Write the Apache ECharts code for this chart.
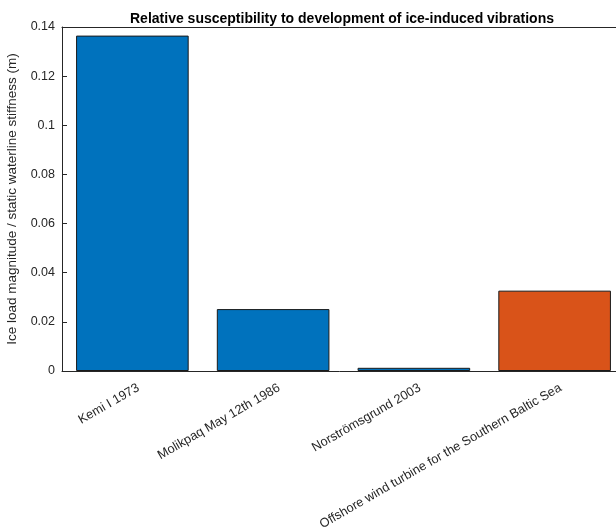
<!DOCTYPE html>
<html>
<head>
<meta charset="utf-8">
<script src="https://cdn.jsdelivr.net/npm/echarts@6/dist/echarts.min.js"></script>
<style>
  html, body { margin: 0; padding: 0; background: #ffffff; }
  #chart { width: 616px; height: 529px; }
</style>
</head>
<body>
<div id="chart"></div>
<script>
// Structures compared
const categories = [
  'Kemi I 1973',
  'Molikpaq May 12th 1986',
  'Norströmsgrund 2003',
  'Offshore wind turbine for the Southern Baltic Sea'
];
// Ice load magnitude divided by static waterline stiffness, in metres
const ratios = [0.1365, 0.0252, 0.0013, 0.0327];
// The proposed design, drawn in a contrasting colour
const highlighted = 'Offshore wind turbine for the Southern Baltic Sea';

const yMin = 0, yMax = 0.14, yStep = 0.02;

const FONT = 'Liberation Sans, Arial, Helvetica, sans-serif';
const INK = '#262626';

const chart = echarts.init(document.getElementById('chart'), null, { renderer: 'canvas' });

// Plot box: the right edge runs past the canvas, so the frame is open on that side
const box = { left: 62, top: 27, width: 563, height: 344 };
// Rotated tick labels sit a little to the right of their ticks
const labelShift = 6;

chart.setOption({
  animation: false,
  backgroundColor: '#ffffff',
  title: {
    text: 'Relative susceptibility to development of ice-induced vibrations',
    left: 337,
    top: 7,
    textAlign: 'center',
    textStyle: { fontFamily: FONT, fontSize: 14, fontWeight: 'bold', color: '#000' }
  },
  grid: [
    { left: box.left, top: box.top, width: box.width, height: box.height,
      containLabel: false, outerBoundsMode: 'none' },
    { left: box.left + labelShift, top: box.top, width: box.width, height: box.height,
      containLabel: false, outerBoundsMode: 'none' }
  ],
  xAxis: [
    {
      type: 'category',
      gridIndex: 0,
      data: categories,
      position: 'bottom',
      z: 5,
      axisLine: { lineStyle: { color: INK, width: 1 } },
      axisTick: { inside: true, alignWithLabel: true, length: 5, lineStyle: { color: INK } },
      axisLabel: { show: false },
      splitLine: { show: false }
    },
    {
      type: 'category',
      gridIndex: 0,
      data: categories,
      position: 'top',
      z: 5,
      axisLine: { lineStyle: { color: INK, width: 1 } },
      axisTick: { inside: true, alignWithLabel: true, length: 5, lineStyle: { color: INK } },
      axisLabel: { show: false },
      splitLine: { show: false }
    },
    {
      // tick labels only
      type: 'category',
      gridIndex: 1,
      data: categories,
      position: 'bottom',
      axisLine: { show: false },
      axisTick: { show: false },
      axisLabel: {
        rotate: 30, interval: 0, margin: 16,
        fontFamily: FONT, fontSize: 12.75, color: INK
      },
      splitLine: { show: false }
    }
  ],
  yAxis: [
    {
      type: 'value',
      gridIndex: 0,
      min: yMin, max: yMax, interval: yStep,
      z: 5,
      name: 'Ice load magnitude / static waterline stiffness (m)',
      nameLocation: 'middle',
      nameGap: 28,
      nameTextStyle: { fontFamily: FONT, fontSize: 13.5, color: INK },
      axisLine: { show: true, lineStyle: { color: INK, width: 1 } },
      axisTick: { show: true, inside: true, length: 5, lineStyle: { color: INK } },
      axisLabel: {
        margin: 7, fontFamily: FONT, fontSize: 12.5, color: INK,
        formatter: v => String(+v.toFixed(2))
      },
      splitLine: { show: false }
    },
    {
      type: 'value',
      gridIndex: 1,
      min: yMin, max: yMax, interval: yStep,
      show: false
    }
  ],
  series: [{
    type: 'bar',
    xAxisIndex: 0,
    yAxisIndex: 0,
    barWidth: '80%',
    data: ratios.map((v, i) => ({
      value: v,
      itemStyle: { color: categories[i] === highlighted ? '#D95319' : '#0072BD' }
    })),
    itemStyle: { borderColor: '#1a1a1a', borderWidth: 1 }
  }]
});
</script>
</body>
</html>
